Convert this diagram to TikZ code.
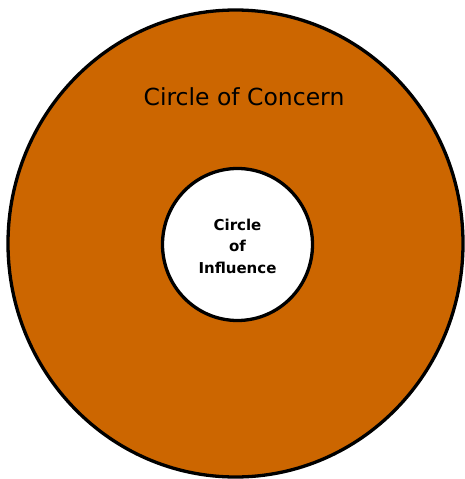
\documentclass[tikz,border=0pt]{standalone}
\usepackage{fontspec}
\setmainfont{DejaVu Sans}
\definecolor{concern}{RGB}{204,102,0}
\tikzset{
  ring/.style={draw=black, line width=3.3pt},
  biglabel/.style={font=\fontsize{23.5}{26}\selectfont, inner sep=0pt},
  smalllabel/.style={font=\bfseries\fontsize{15}{21.5}\selectfont, align=center, inner sep=0pt}
}
\begin{document}
\begin{tikzpicture}[x=1pt,y=-1pt]
\useasboundingbox (0,0) rectangle (464,479);
\draw[ring, fill=concern] (235.5,243.5) ellipse [x radius=227.5, y radius=233.5];
\draw[ring, fill=white] (237.5,244.5) ellipse [x radius=75, y radius=76];
\node[biglabel] (concern) at (244,97) {Circle of Concern};
\node[smalllabel] (influence) at (237.5,246) {Circle\\of\\Influence};
\end{tikzpicture}
\end{document}
